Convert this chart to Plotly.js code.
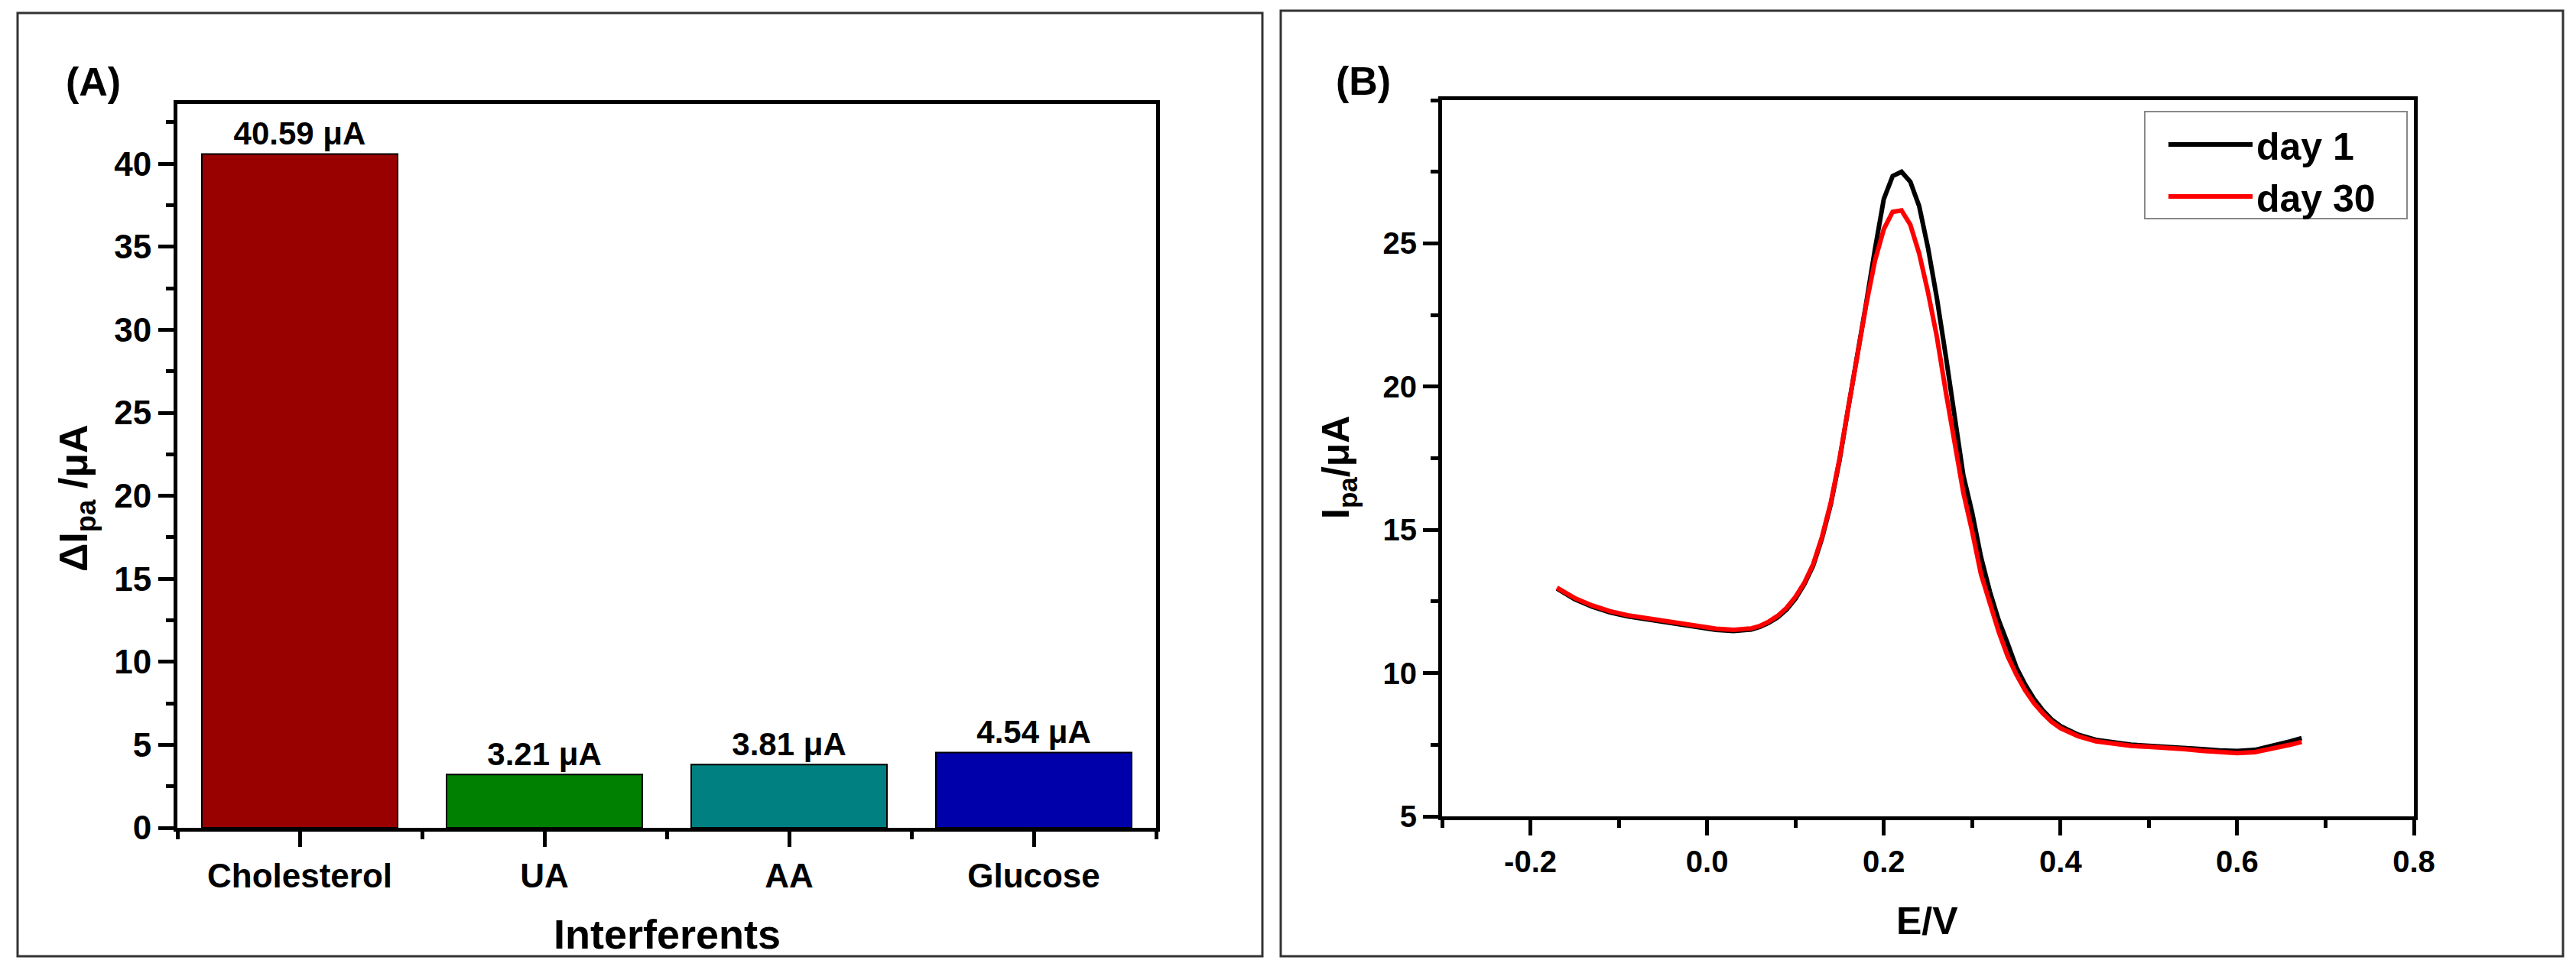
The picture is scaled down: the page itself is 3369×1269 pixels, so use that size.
<!DOCTYPE html>
<html>
<head>
<meta charset="utf-8">
<script src="https://cdn.plot.ly/plotly-3.0.1.min.js"></script>
<style>html,body{margin:0;padding:0;background:#fff;}#chart{width:3369px;height:1269px;}</style>
</head>
<body>
<div id="chart"></div>
<script>
// ---------- Panel A data ----------
const categories = ["Cholesterol", "UA", "AA", "Glucose"];
const deltaIpa = [40.59, 3.21, 3.81, 4.54];
const barColors = ["#990000", "#008000", "#008080", "#0000AA"];
const yTicksA = [0, 5, 10, 15, 20, 25, 30, 35, 40];

// ---------- Panel B data ----------
const E_day1 = [-0.17,-0.15,-0.13,-0.11,-0.09,-0.07,-0.05,-0.03,-0.01,0.01,0.03,0.05,0.06,0.07,0.08,0.09,0.10,0.11,0.12,0.13,0.14,0.15,0.16,0.17,0.18,0.19,0.20,0.21,0.22,0.23,0.24,0.25,0.26,0.27,0.28,0.29,0.30,0.31,0.32,0.33,0.34,0.35,0.36,0.37,0.38,0.39,0.40,0.42,0.44,0.46,0.48,0.50,0.52,0.54,0.56,0.58,0.60,0.62,0.64,0.66,0.673];
const I_day1 = [12.95,12.58,12.32,12.12,11.98,11.88,11.78,11.68,11.58,11.51,11.47,11.52,11.62,11.76,11.95,12.22,12.6,13.1,13.75,14.7,15.9,17.45,19.3,21.0,22.9,24.8,26.55,27.35,27.5,27.15,26.3,24.85,23.1,21.1,18.9,16.9,15.6,14.05,12.85,11.85,11.05,10.2,9.6,9.1,8.7,8.38,8.15,7.85,7.67,7.57,7.5,7.46,7.43,7.40,7.35,7.30,7.28,7.32,7.45,7.62,7.73];

const E_day30 = [-0.17,-0.15,-0.13,-0.11,-0.09,-0.07,-0.05,-0.03,-0.01,0.01,0.03,0.05,0.06,0.07,0.08,0.09,0.10,0.11,0.12,0.13,0.14,0.15,0.16,0.17,0.18,0.19,0.20,0.21,0.22,0.23,0.24,0.25,0.26,0.27,0.28,0.29,0.30,0.31,0.32,0.33,0.34,0.35,0.36,0.37,0.38,0.39,0.40,0.42,0.44,0.46,0.48,0.50,0.52,0.54,0.56,0.58,0.60,0.62,0.64,0.66,0.673];
const I_day30 = [12.98,12.62,12.36,12.16,12.02,11.92,11.82,11.72,11.62,11.55,11.51,11.56,11.65,11.8,12.0,12.28,12.66,13.15,13.8,14.75,15.95,17.5,19.3,21.1,22.85,24.4,25.5,26.1,26.15,25.65,24.65,23.3,21.75,19.85,18.0,16.3,14.95,13.45,12.45,11.45,10.6,9.95,9.4,8.95,8.6,8.3,8.08,7.8,7.62,7.52,7.46,7.43,7.40,7.35,7.29,7.24,7.21,7.24,7.36,7.5,7.6];
const yTicksB = [5, 10, 15, 20, 25];
const xTicksB = [-0.2, 0.0, 0.2, 0.4, 0.6, 0.8];
const xTickTextB = ["-0.2", "0.0", "0.2", "0.4", "0.6", "0.8"];

// ---------- geometry helpers ----------
const W = 3369, H = 1269;
const px = v => v / W;
const py = v => 1 - v / H;
const FONT = "Liberation Sans, Arial, Helvetica, sans-serif";
const bold = (size) => ({family: FONT, size: size, color: "#000", weight: 700});

const idx = categories.map((c, i) => i);

const traces = [
  {
    type: "bar", x: idx, y: deltaIpa, xaxis: "x", yaxis: "y",
    width: 0.8,
    marker: {color: barColors, line: {color: "#000", width: 2}},
    texttemplate: "%{y:.2f} μA", textposition: "outside",
    textfont: bold(42), cliponaxis: false, showlegend: false,
    hoverinfo: "skip"
  },
  {
    type: "scatter", mode: "lines", name: "day 1", x: E_day1, y: I_day1,
    xaxis: "x2", yaxis: "y2", line: {color: "#000", width: 6}
  },
  {
    type: "scatter", mode: "lines", name: "day 30", x: E_day30, y: I_day30,
    xaxis: "x2", yaxis: "y2", line: {color: "#FF0000", width: 6}
  }
];

const axisCommon = {
  showline: true, linecolor: "#000", linewidth: 5, mirror: true,
  ticks: "outside", ticklen: 20, tickwidth: 5, tickcolor: "#000",
  showgrid: false, zeroline: false, fixedrange: true
};
const minorTicks = (extra) => Object.assign({ticklen: 10, tickwidth: 5, tickcolor: "#000", ticks: "outside", showgrid: false}, extra);

const layout = {
  width: W, height: H,
  margin: {l: 0, r: 0, t: 0, b: 0, pad: 0},
  paper_bgcolor: "#fff", plot_bgcolor: "#fff",
  bargap: 0.2,
  xaxis: Object.assign({}, axisCommon, {
    domain: [px(232), px(1512)], anchor: "y",
    range: [-0.5, 3.5], tickmode: "array", tickvals: idx, ticktext: categories,
    tickfont: bold(44),
    minor: minorTicks({tickmode: "linear", tick0: 0.5, dtick: 1})
  }),
  yaxis: Object.assign({}, axisCommon, {
    domain: [py(1083), py(136)], anchor: "x",
    range: [0, 43.6], tickmode: "array", tickvals: yTicksA,
    tickfont: bold(44),
    minor: minorTicks({tickmode: "linear", tick0: 0, dtick: 2.5})
  }),
  xaxis2: Object.assign({}, axisCommon, {
    domain: [px(1886), px(3157)], anchor: "y2",
    range: [-0.3, 0.8], tickmode: "array", tickvals: xTicksB, ticktext: xTickTextB,
    tickfont: bold(40),
    minor: minorTicks({tickmode: "linear", tick0: 0, dtick: 0.1})
  }),
  yaxis2: Object.assign({}, axisCommon, {
    domain: [py(1068), py(131)], anchor: "x2",
    range: [5, 30], tickmode: "array", tickvals: yTicksB,
    tickfont: bold(40),
    minor: minorTicks({tickmode: "linear", tick0: 0, dtick: 2.5})
  }),
  showlegend: true,
  legend: {
    x: px(2831), xanchor: "left", y: py(150), yanchor: "top",
    bgcolor: "rgba(0,0,0,0)", borderwidth: 0,
    font: bold(50), itemwidth: 110, tracegroupgap: 0
  },
  shapes: [
    {type: "rect", xref: "paper", yref: "paper", x0: px(23), x1: px(1651), y0: py(1251), y1: py(17),
     line: {color: "#333", width: 3}, layer: "below"},
    {type: "rect", xref: "paper", yref: "paper", x0: px(1675), x1: px(3352), y0: py(1251), y1: py(14),
     line: {color: "#333", width: 3}, layer: "below"},
    // legend frame
    {type: "rect", xref: "paper", yref: "paper", x0: px(2805), x1: px(3148), y0: py(286), y1: py(146),
     line: {color: "#888", width: 2}, fillcolor: "#fff", layer: "above"}
  ],
  annotations: [
    {text: "(A)", x: px(122), y: py(107), font: bold(52)},
    {text: "(B)", x: px(1783), y: py(106), font: bold(52)},
    {text: "Interferents", x: px(872), y: py(1222), font: bold(54)},
    {text: "ΔI<sub>pa</sub> /μA", x: px(100), y: py(652), textangle: -90, font: bold(52)},
    {text: "E/V", x: px(2520), y: py(1205), font: bold(50)},
    {text: "I<sub>pa</sub>/μA", x: px(1750), y: py(612), textangle: -90, font: bold(50)}
  ].map(a => Object.assign({xref: "paper", yref: "paper", showarrow: false, xanchor: "center", yanchor: "middle"}, a))
};

Plotly.newPlot("chart", traces, layout, {displayModeBar: false, staticPlot: true});
</script>
</body>
</html>
